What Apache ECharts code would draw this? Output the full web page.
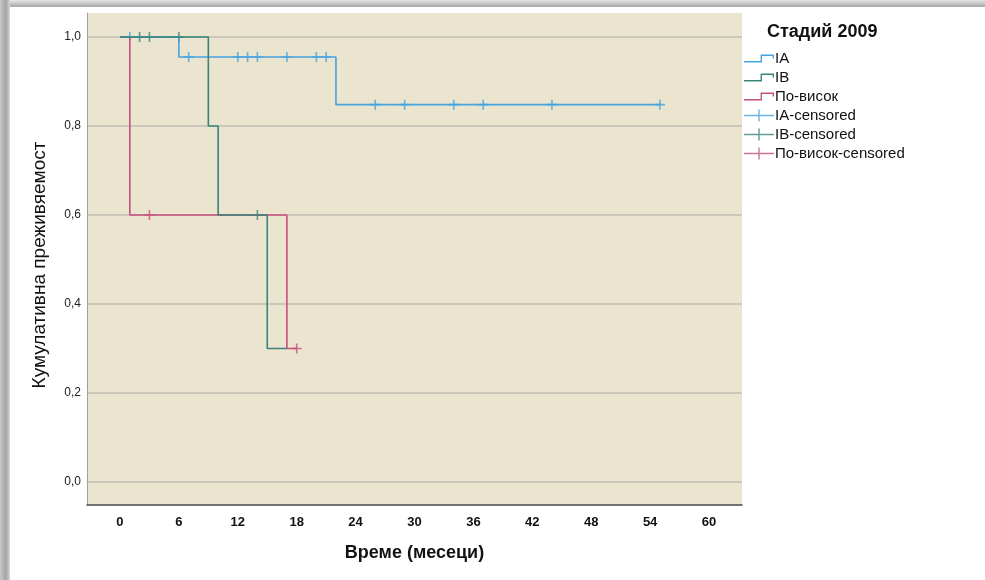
<!DOCTYPE html>
<html><head><meta charset="utf-8">
<script src="https://cdn.jsdelivr.net/npm/echarts@6/dist/echarts.min.js"></script>
<style>html,body{margin:0;padding:0;background:#fff}#c{width:985px;height:580px}</style>
</head><body><div id="c"></div>
<script>
// ---- data ----
const xTicks = [0, 6, 12, 18, 24, 30, 36, 42, 48, 54, 60];
const yTicks = [0, 0.2, 0.4, 0.6, 0.8, 1.0];
const iaTime = [0, 6, 22, 55];
const iaSurv = [1, 0.955, 0.848, 0.848];
const ibTime = [0, 9, 10, 15, 17];
const ibSurv = [1, 0.8, 0.6, 0.3, 0.3];
const hiTime = [0, 1, 17, 18];
const hiSurv = [1, 0.6, 0.3, 0.3];
const iaCensTime = [1, 7, 12, 13, 14, 17, 20, 21, 26, 29, 34, 37, 44, 55];
const iaCensSurv = [1, 0.955, 0.955, 0.955, 0.955, 0.955, 0.955, 0.955, 0.848, 0.848, 0.848, 0.848, 0.848, 0.848];
const ibCensTime = [2, 3, 6, 14];
const ibCensSurv = [1, 1, 1, 0.6];
const hiCensTime = [3, 18];
const hiCensSurv = [0.6, 0.3];

const zip = (a, b) => a.map((v, i) => [v, b[i]]);
const cIA = '#45a3e0', cIB = '#3a8479', cHI = '#c6507f';
const FONT = 'Liberation Sans, Arial, sans-serif';
const NARROW = 'Liberation Sans Narrow, Liberation Sans, Arial, sans-serif';
const plusPath = 'path://M4.2,0L5.8,0L5.8,10L4.2,10Z M0,4.2L10,4.2L10,5.8L0,5.8Z';
const stepIcon = 'path://M0,8.6L16.6,8.6L16.6,2L30,2L30,6L28.6,6L28.6,3.4L18,3.4L18,10L0,10Z';
const plusIcon = 'path://M0,5.3L30,5.3L30,6.7L0,6.7Z M14.3,0L15.7,0L15.7,12L14.3,12Z';

const chart = echarts.init(document.getElementById('c'), null, {renderer: 'canvas'});
const lineS = (name, t, s, color) => ({
  type: 'line', name, data: zip(t, s), step: 'end', showSymbol: false, symbol: 'none',
  lineStyle: {color, width: 1.6}, itemStyle: {color}, clip: false, animation: false
});
const cens = (name, t, s, color) => ({
  type: 'scatter', name, data: zip(t, s), symbol: plusPath, symbolSize: 10,
  itemStyle: {color}, clip: false, animation: false
});

chart.setOption({
  backgroundColor: '#ffffff',
  animation: false,
  title: {
    text: 'Стадий 2009', left: 767, top: 23, padding: 0,
    textStyle: {fontFamily: FONT, fontSize: 18, fontWeight: 'bold', color: '#111'}
  },
  legend: {
    orient: 'vertical', left: 744, top: 51, padding: 0, itemWidth: 30, itemHeight: 12, itemGap: 4,
    textStyle: {fontFamily: FONT, fontSize: 15, color: '#111', padding: [0, 0, 0, -4]},
    data: [
      {name: 'IA', icon: stepIcon},
      {name: 'IB', icon: stepIcon},
      {name: 'По-висок', icon: stepIcon},
      {name: 'IA-censored', icon: plusIcon},
      {name: 'IB-censored', icon: plusIcon},
      {name: 'По-висок-censored', icon: plusIcon}
    ],
    selectedMode: false
  },
  grid: {left: 87, top: 13, right: 243, bottom: 75, show: true, backgroundColor: '#ebe4cf', borderWidth: 0},
  xAxis: {
    type: 'value', min: -3.36, max: 63.36,
    name: 'Време (месеци)', nameLocation: 'middle', nameGap: 39,
    nameTextStyle: {fontFamily: FONT, fontSize: 18, fontWeight: 'bold', color: '#111'},
    axisLine: {show: true, onZero: false, lineStyle: {color: '#4a4a4a', width: 1.5}},
    axisTick: {show: false, customValues: xTicks},
    splitLine: {show: false},
    axisLabel: {customValues: xTicks, margin: 11, fontFamily: NARROW, fontSize: 13, fontWeight: 'bold', color: '#111'}
  },
  yAxis: {
    type: 'value', min: -0.0517, max: 1.054,
    name: 'Кумулативна преживяемост', nameLocation: 'middle', nameGap: 38,
    nameTextStyle: {fontFamily: FONT, fontSize: 19, color: '#111', padding: [0, 12, 0, 0]},
    axisLine: {show: true, onZero: false, lineStyle: {color: '#a0a0a0', width: 1}},
    axisTick: {show: false, customValues: yTicks},
    splitLine: {show: true, lineStyle: {color: '#c2beb4', width: 1.5}},
    axisLabel: {customValues: yTicks, margin: 6, fontFamily: FONT, fontSize: 12, color: '#222',
      formatter: v => v.toFixed(1).replace('.', ',')}
  },
  graphic: [
    {type: 'rect', left: 0, top: 0, shape: {width: 985, height: 7}, silent: true,
      style: {fill: new echarts.graphic.LinearGradient(0, 0, 0, 1, [{offset: 0, color: '#e6e6e6'}, {offset: 1, color: '#a6a6a6'}])}},
    {type: 'rect', left: 0, top: 0, shape: {width: 10, height: 580}, silent: true,
      style: {fill: new echarts.graphic.LinearGradient(0, 0, 1, 0, [{offset: 0, color: '#c8c8c8'}, {offset: 0.6, color: '#a4a4a4'}, {offset: 1, color: '#d8d8d8'}])}}
  ],
  series: [
    lineS('По-висок', hiTime, hiSurv, cHI),
    lineS('IA', iaTime, iaSurv, cIA),
    lineS('IB', ibTime, ibSurv, cIB),
    cens('IA-censored', iaCensTime, iaCensSurv, cIA),
    cens('IB-censored', ibCensTime, ibCensSurv, cIB),
    cens('По-висок-censored', hiCensTime, hiCensSurv, cHI)
  ]
});
</script></body></html>
